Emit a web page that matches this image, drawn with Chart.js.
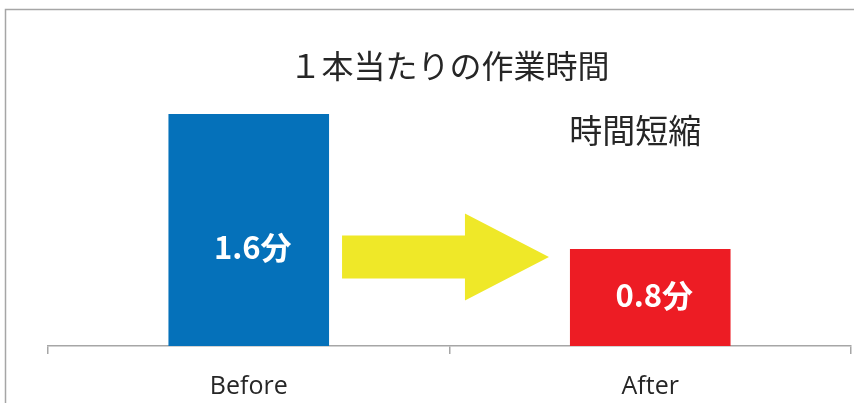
<!DOCTYPE html>
<html>
<head>
<meta charset="utf-8">
<script src="https://cdn.jsdelivr.net/npm/chart.js@4.4.1/dist/chart.umd.min.js"></script>
<style>
  html, body { margin: 0; padding: 0; background: #fff; }
  #wrap { width: 854px; height: 403px; }
</style>
</head>
<body>
<div id="wrap"><canvas id="chart" width="854" height="403"></canvas></div>
<script>
// data
const categories = ['Before', 'After'];
const minutes = [1.6, 0.8];
const valueLabels = ['1.6分', '0.8分'];
const barColors = ['#0571ba', '#ed1c24'];
const chartTitle = '１本当たりの作業時間';
const arrowNote = '時間短縮';
const yMin = 0.225;
const yMax = 1.7;

const JP = '"Noto Sans CJK JP", "Noto Sans", sans-serif';

// frame round the chart
const framePlugin = {
  id: 'frame',
  beforeDraw(chart) {
    const ctx = chart.ctx;
    ctx.save();
    ctx.fillStyle = '#fff';
    ctx.fillRect(0, 0, chart.width, chart.height);
    ctx.strokeStyle = '#a6a6a6';
    ctx.lineWidth = 1.5;
    ctx.strokeRect(5.5, 9.5, chart.width + 20, chart.height + 20);
    ctx.restore();
  }
};

// title, arrow, note, labels in the bars
const decorPlugin = {
  id: 'decor',
  afterDatasetsDraw(chart) {
    const ctx = chart.ctx;
    const area = chart.chartArea;
    const bars = chart.getDatasetMeta(0).data;
    ctx.save();

    // title
    ctx.fillStyle = '#262626';
    ctx.textAlign = 'center';
    ctx.textBaseline = 'middle';
    ctx.font = '400 32px ' + JP;
    ctx.fillText(chartTitle, (area.left + area.right) / 2, 66);

    // labels inside bars (axis does not start at 0, so measure from the chart bottom)
    ctx.fillStyle = '#fff';
    ctx.font = 'bold 31px ' + JP;
    bars.forEach((b, i) => {
      const h = area.bottom - b.y;
      ctx.fillText(valueLabels[i], b.x + 4, area.bottom - 0.356 * h - 16);
    });

    // yellow arrow between the bars
    const b0 = bars[0], b1 = bars[1];
    const left = b0.x + b0.width / 2 + 13;
    const tip = b1.x - b1.width / 2 - 21;
    const headBase = tip - 84;
    const cy = b1.y + 8;
    const shaftH = 21.5, headH = 43.5;
    ctx.fillStyle = '#efe828';
    ctx.beginPath();
    ctx.moveTo(left, cy - shaftH);
    ctx.lineTo(headBase, cy - shaftH);
    ctx.lineTo(headBase, cy - headH);
    ctx.lineTo(tip, cy);
    ctx.lineTo(headBase, cy + headH);
    ctx.lineTo(headBase, cy + shaftH);
    ctx.lineTo(left, cy + shaftH);
    ctx.closePath();
    ctx.fill();

    // note above the arrow
    ctx.fillStyle = '#262626';
    ctx.font = '400 33px ' + JP;
    ctx.fillText(arrowNote, b1.x - 15, area.top + 33);

    ctx.restore();
  }
};

new Chart(document.getElementById('chart'), {
  type: 'bar',
  data: {
    labels: categories,
    datasets: [{
      data: minutes,
      backgroundColor: barColors,
      borderWidth: 0,
      barPercentage: 0.8,
      categoryPercentage: 0.5
    }]
  },
  options: {
    responsive: false,
    animation: false,
    devicePixelRatio: 1,
    layout: { padding: { left: 48, right: 3, top: 97, bottom: 0 } },
    plugins: {
      legend: { display: false },
      tooltip: { enabled: false },
      title: { display: false }
    },
    scales: {
      x: {
        offset: true,
        afterFit(scale) { scale.height = 57; },
        grid: {
          offset: true,
          display: true,
          drawOnChartArea: false,
          drawTicks: true,
          tickLength: 8,
          color: '#a6a6a6',
          lineWidth: 1.5
        },
        border: { display: true, color: '#a6a6a6', width: 1.5 },
        ticks: {
          color: '#262626',
          padding: 18,
          font: { family: '"Open Sans", sans-serif', size: 25 }
        }
      },
      y: {
        display: false,
        min: yMin,
        max: yMax
      }
    }
  },
  plugins: [framePlugin, decorPlugin]
});
</script>
</body>
</html>
